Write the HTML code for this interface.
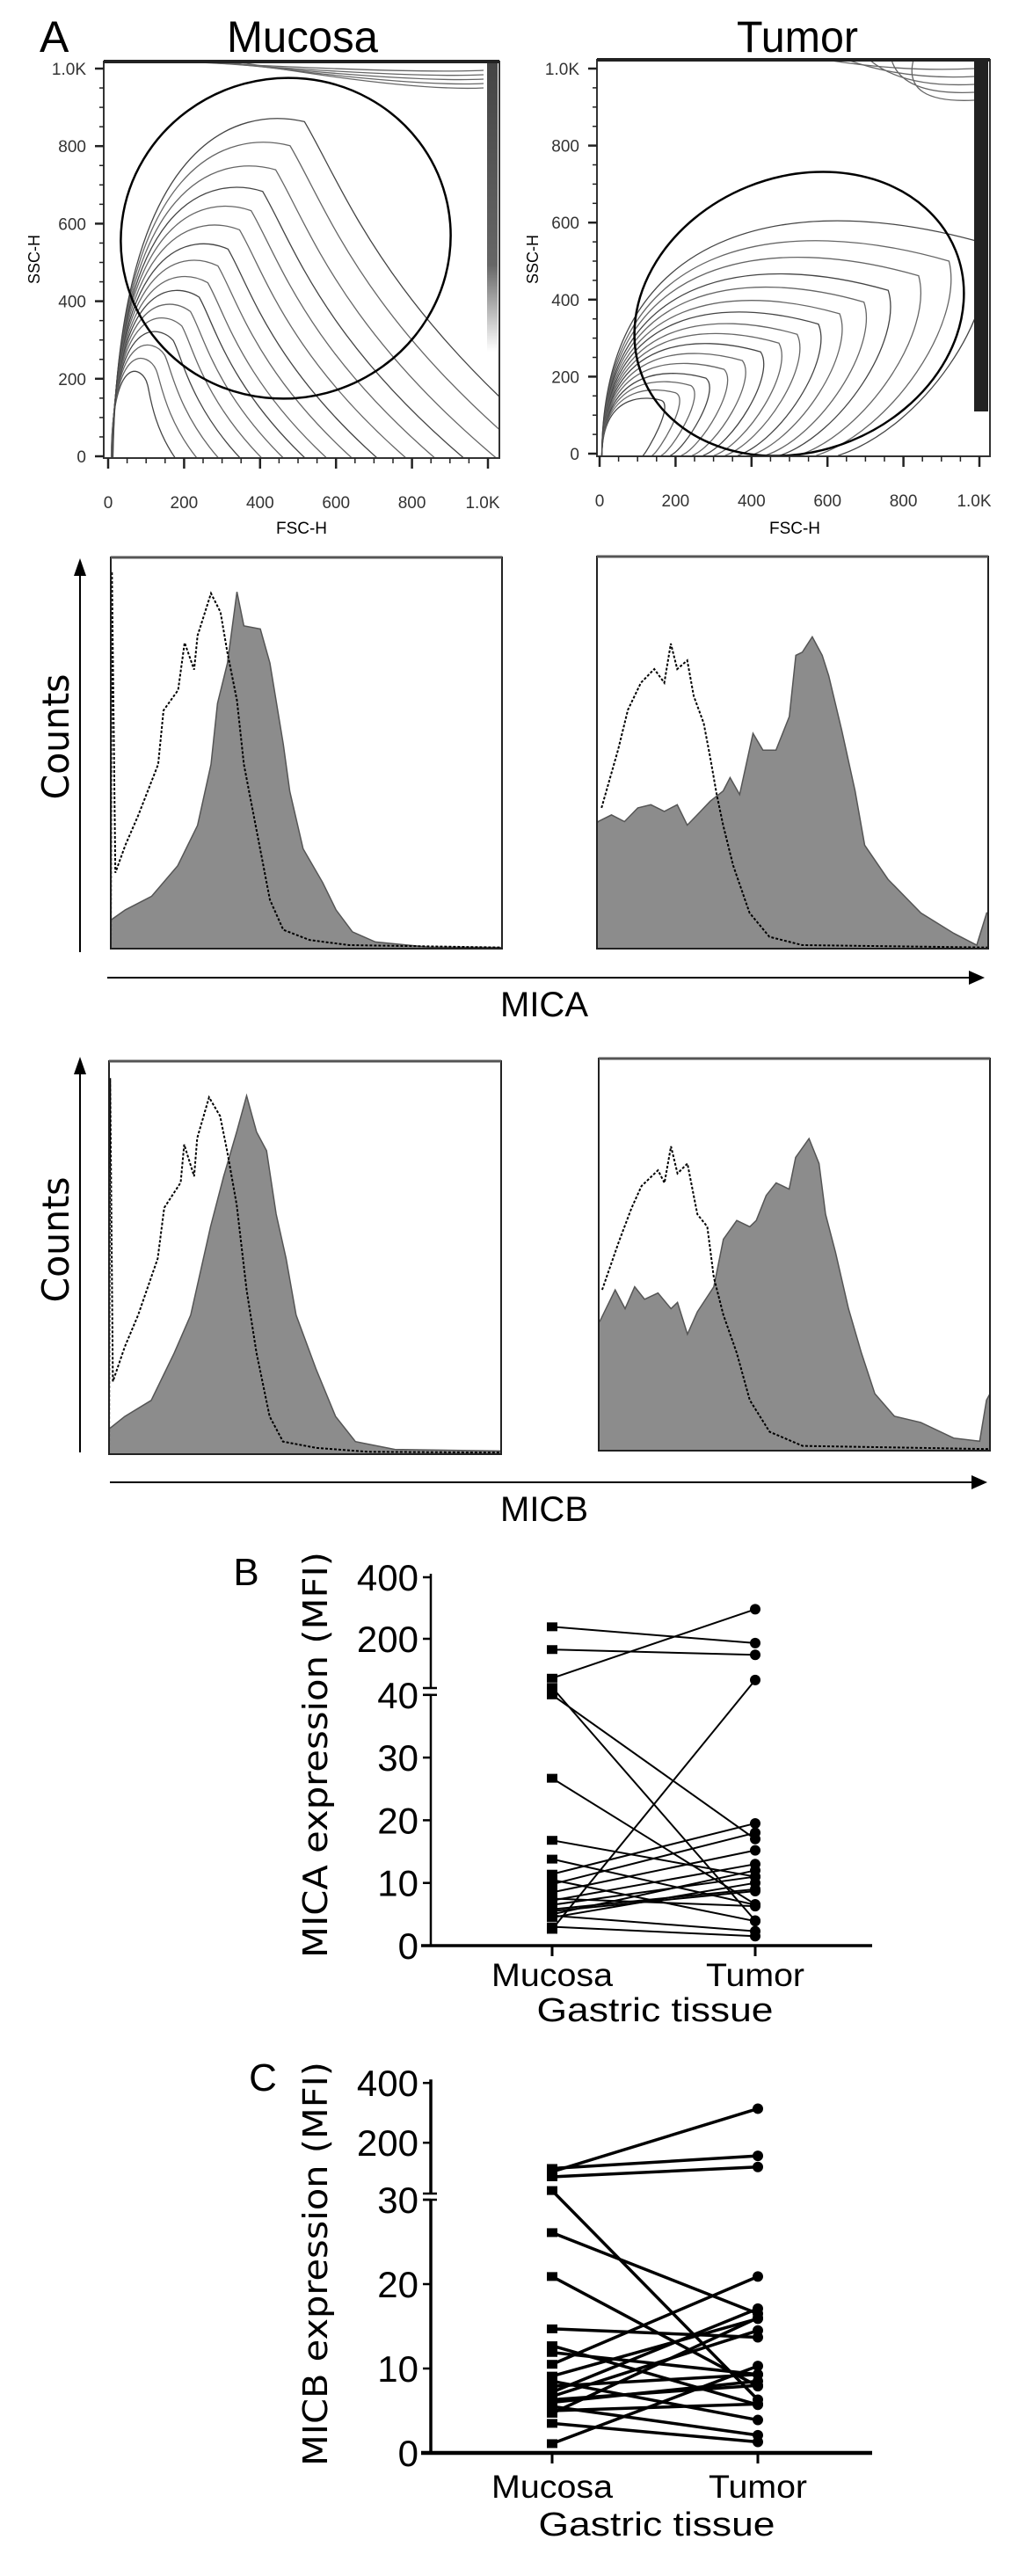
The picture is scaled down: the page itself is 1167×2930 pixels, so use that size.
<!DOCTYPE html>
<html><head><meta charset="utf-8"><style>
html,body{margin:0;padding:0;background:#fff;}
svg{display:block;}
text{font-family:"Liberation Sans",sans-serif;fill:#000;}
.v{font-family:"DejaVu Sans","Liberation Sans",sans-serif;}
.tk{font-size:19px;fill:#333;}
</style></head><body>
<svg id="fig" xmlns="http://www.w3.org/2000/svg" width="1167" height="2930" viewBox="0 0 1167 2930">
<defs><linearGradient id="bandGrad" x1="0" y1="0" x2="0" y2="1"><stop offset="0" stop-color="#444"/><stop offset="0.7" stop-color="#666"/><stop offset="1" stop-color="#fff"/></linearGradient></defs>
<rect x="0" y="0" width="1167" height="2930" fill="#fff"/>
<text x="45" y="59" font-size="50">A</text>
<text x="344" y="59" font-size="50" text-anchor="middle" textLength="172" lengthAdjust="spacingAndGlyphs">Mucosa</text>
<text x="907" y="59" font-size="50" text-anchor="middle" textLength="138" lengthAdjust="spacingAndGlyphs">Tumor</text>
<text x="343" y="607" font-size="19" fill="#333" text-anchor="middle">FSC-H</text>
<text x="904" y="607" font-size="19" fill="#333" text-anchor="middle">FSC-H</text>
<text transform="translate(45,295) rotate(-90)" font-size="18" fill="#333" text-anchor="middle">SSC-H</text>
<text transform="translate(612,295) rotate(-90)" font-size="18" fill="#333" text-anchor="middle">SSC-H</text>
<g>
<line x1="91" y1="1083" x2="91" y2="650" stroke="#000" stroke-width="2"/>
<polygon points="91,635 84,655 98,655" fill="#000"/>
<text class="v" transform="translate(78,838) rotate(-90)" font-size="42" text-anchor="middle" textLength="143" lengthAdjust="spacingAndGlyphs">Counts</text>
</g>
<g>
<line x1="122" y1="1112" x2="1105" y2="1112" stroke="#000" stroke-width="2"/>
<polygon points="1120,1112 1102,1104 1102,1120" fill="#000"/>
<text x="619" y="1156" font-size="40" text-anchor="middle">MICA</text>
</g>
<g>
<line x1="91" y1="1652" x2="91" y2="1218" stroke="#000" stroke-width="2"/>
<polygon points="91,1202 84,1222 98,1222" fill="#000"/>
<text class="v" transform="translate(78,1410) rotate(-90)" font-size="42" text-anchor="middle" textLength="143" lengthAdjust="spacingAndGlyphs">Counts</text>
</g>
<g>
<line x1="125" y1="1686" x2="1107" y2="1686" stroke="#000" stroke-width="2"/>
<polygon points="1123,1686 1105,1678 1105,1694" fill="#000"/>
<text x="619" y="1730" font-size="40" text-anchor="middle">MICB</text>
</g>
<text x="280" y="1803" font-size="44" text-anchor="middle">B</text>
<text class="v" transform="translate(372,1996) rotate(-90)" font-size="38" text-anchor="middle" textLength="462" lengthAdjust="spacingAndGlyphs">MICA expression (MFI)</text>
<text x="628" y="2259" font-size="37" text-anchor="middle" textLength="138" lengthAdjust="spacingAndGlyphs">Mucosa</text>
<text x="859" y="2259" font-size="37" text-anchor="middle" textLength="112" lengthAdjust="spacingAndGlyphs">Tumor</text>
<text x="745" y="2299" font-size="38" text-anchor="middle" textLength="269" lengthAdjust="spacingAndGlyphs">Gastric tissue</text>
<text x="299" y="2378" font-size="44" text-anchor="middle">C</text>
<text class="v" transform="translate(372,2575) rotate(-90)" font-size="38" text-anchor="middle" textLength="460" lengthAdjust="spacingAndGlyphs">MICB expression (MFI)</text>
<text x="628" y="2841" font-size="37" text-anchor="middle" textLength="138" lengthAdjust="spacingAndGlyphs">Mucosa</text>
<text x="862" y="2841" font-size="37" text-anchor="middle" textLength="112" lengthAdjust="spacingAndGlyphs">Tumor</text>
<text x="747" y="2884" font-size="38" text-anchor="middle" textLength="269" lengthAdjust="spacingAndGlyphs">Gastric tissue</text>
</svg>
<script>
// ---------- data ----------
var contourTickValues = [0, 200, 400, 600, 800, 1000];
var contourTickLabels = ['0', '200', '400', '600', '800', '1.0K'];
var mucosaContourLevels = [0.06, 0.12, 0.18, 0.24, 0.3, 0.36, 0.42, 0.48, 0.55, 0.62, 0.7, 0.78, 0.86, 0.95, 1.05, 1.15];
var tumorContourLevels = [0.05, 0.1, 0.15, 0.2, 0.26, 0.32, 0.38, 0.44, 0.5, 0.57, 0.64, 0.72, 0.8, 0.9, 1.0, 1.12];

var micaMucosaStained = [[0,7.3],[38,9.9],[107,13.4],[175,21.2],[227,31.5],[262,47.1],[279,62.7],[305,73],[330,91.2],[348,82.5],[391,81.7],[416,73],[451,52.3],[468,40.2],[503,25.5],[554,16.9],[589,9.9],[632,4.3],[692,1.7],[830,0.4],[1023,0.3]];
var micaMucosaIsotype = [[0,0],[3,96.4],[12,19.4],[38,26.4],[72,34.1],[124,47.1],[138,60.9],[176,66.1],[193,78.2],[218,71.3],[227,80],[262,90.8],[287,86],[305,75.6],[330,63.5],[348,47.1],[382,29.8],[416,12.5],[451,4.8],[520,2.2],[623,0.9],[1023,0.3]];
var micaTumorStained = [[0,32],[3,32.4],[38,34.1],[72,32.4],[107,35.9],[141,36.7],[176,35],[210,36.7],[236,31.5],[262,34.1],[296,37.6],[330,40.2],[348,43.6],[373,39.3],[408,54.9],[434,50.6],[468,50.6],[503,59.2],[520,74.8],[537,75.6],[563,79.5],[589,74.8],[606,69.6],[640,55.7],[675,40.2],[700,26.4],[761,17.7],[847,9.1],[933,3.9],[993,0.9],[1019,9.1],[1023,9.1]];
var micaTumorIsotype = [[12,35.9],[55,50.6],[81,60.9],[115,67.8],[150,71.3],[176,67.8],[193,77.8],[210,71.3],[236,73.5],[253,64.4],[279,57.5],[296,48.8],[313,39.3],[330,31.5],[356,21.2],[399,9.1],[451,3],[537,0.9],[1023,0.3]];
var micbMucosaStained = [[0,6.4],[41,9.6],[110,13.7],[170,25.7],[213,35.4],[265,57.9],[299,70.7],[333,82],[359,91.2],[385,82],[411,77.2],[436,61.1],[462,49.8],[488,35.4],[540,21.7],[591,9.6],[643,3.2],[746,1.2],[1023,0.8]];
var micbMucosaIsotype = [[0,0],[3,95.7],[10,18.5],[41,27.3],[76,35.4],[127,49.8],[144,62.7],[187,69.1],[196,78.8],[222,70.7],[230,80.4],[261,90.8],[290,86],[308,77.2],[333,63.5],[359,41.8],[385,25.7],[419,9.6],[454,3.2],[540,1.6],[677,0.6],[1023,0.4]];
var micbTumorStained = [[0,33],[3,33],[43,41],[69,36.2],[94,41.8],[120,38.6],[155,40.2],[189,36.2],[206,37.8],[232,29.7],[258,35.4],[301,41.8],[326,53.9],[361,58.7],[395,57.1],[412,58.7],[438,65.1],[464,68.3],[498,66.7],[515,74.8],[550,79.6],[576,73.2],[593,60.3],[619,50.6],[653,36.2],[687,24.9],[722,14.5],[773,8.8],[842,7.2],[928,3.2],[996,2.4],[1014,12.9],[1023,14.5]];
var micbTumorIsotype = [[9,41],[52,53.1],[86,61.9],[112,67.5],[155,71.5],[172,68.3],[189,77.6],[206,70.7],[232,73.2],[258,60.3],[284,57.1],[301,44.2],[326,34.6],[361,24.9],[395,12.9],[447,4.8],[533,1.2],[1023,0.4]];

var groupLabels = ['Mucosa', 'Tumor'];
var micaTickValues = [0, 10, 20, 30, 40, 200, 400];
var micaTickLabels = ['0', '10', '20', '30', '40', '200', '400'];
var micaMucosa = [239, 165, 72, 42, 40, 2.6, 26.7, 16.8, 13.8, 11.4, 10.5, 9.8, 8.5, 7.2, 6.5, 5.8, 5, 4.5, 4.8, 3, 7.5, 5.5];
var micaTumor  = [186, 148, 296, 4, 17, 66, 6.6, 11, 6.5, 19.5, 3.9, 18, 15.2, 13, 11, 9, 12, 10, 2.3, 1.5, 6.3, 8.7];
var micbTickValues = [0, 10, 20, 30, 200, 400];
var micbTickLabels = ['0', '10', '20', '30', '200', '400'];
var micbMucosa = [103, 114, 86, 40, 26.1, 20.9, 14.7, 12.7, 11.9, 10.5, 9.1, 8.5, 7.9, 7.2, 6.7, 6, 5.5, 4.7, 3.5, 1.1, 5, 6.3];
var micbTumor  = [314, 156, 119, 6.3, 16.5, 7.9, 13.7, 5.7, 9.3, 20.9, 15.9, 3.9, 9.3, 17.1, 14.5, 8.5, 2.1, 16, 1.3, 10.3, 5.8, 8];

// ---------- helpers ----------
var NS = 'http://www.w3.org/2000/svg';
var svg = document.getElementById('fig');
function mk(tag, parent) { var e = document.createElementNS(NS, tag); (parent || svg).appendChild(e); return e; }

// ---------- contour plots ----------
function contourPlot(box, levels, kind, name) {
  var g = mk('g');
  
  
  function X(v) { return box.ax0 + v * box.sx; }
  function Y(v) { return box.ay0 - v * box.sy; }
  var clip = mk('clipPath', g); clip.setAttribute('id', name + '-clip');
  var cr = mk('rect', clip); cr.setAttribute('x', box.x0); cr.setAttribute('y', box.y0); cr.setAttribute('width', box.x1 - box.x0); cr.setAttribute('height', box.y1 - box.y0);
  var cg = mk('g', g); cg.setAttribute('clip-path', 'url(#' + name + '-clip)');
  
  
  levels.forEach(function (s, i) {
    var d;
    if (kind === 'mucosa') {
      var ax = 80 + 380 * s, ay = 150 + 620 * s, ex = 120 + 950 * s;
      d = 'M' + X(8 + 4 * s) + ',' + Y(-5) + ' C' + X(10 + 15 * s) + ',' + Y(250 + 500 * s) + ' ' + X(ax - 150 * s) + ',' + Y(ay + 40) + ' ' + X(ax) + ',' + Y(ay) +
          ' C' + X(ax + 90 * s) + ',' + Y(ay - 150 * s) + ' ' + X(ax + 180 * s) + ',' + Y(ay * 0.45) + ' ' + X(ex) + ',' + Y(-5);
    } else {
      var tx = 120 + 800 * s, ty = 120 + 380 * s, bx = 90 + 480 * s;
      d = 'M' + X(6) + ',' + Y(-5) + ' C' + X(8) + ',' + Y(150 + 420 * s) + ' ' + X(tx - 420 * s) + ',' + Y(ty + 120 * s) + ' ' + X(tx) + ',' + Y(ty) +
          ' C' + X(tx + 40) + ',' + Y(ty - 160 * s) + ' ' + X(bx + 200 * s) + ',' + Y(60 * s) + ' ' + X(bx) + ',' + Y(-5);
    }
    var p = mk('path', cg);
    
    
    p.setAttribute('d', d);
    p.setAttribute('fill', 'none');
    p.setAttribute('stroke', i % 3 === 0 ? '#444' : '#666');
    p.setAttribute('stroke-width', '1.3');
  });
  var band = mk('rect', cg);
  
  
  band.setAttribute('x', box.x1 - (kind === 'mucosa' ? 14 : 18)); band.setAttribute('y', box.y0);
  band.setAttribute('width', kind === 'mucosa' ? 12 : 16); band.setAttribute('height', kind === 'mucosa' ? 330 : 400);
  band.setAttribute('fill', kind === 'mucosa' ? 'url(#bandGrad)' : '#222');
  for (var k = 0; k < 5; k++) {
    var tl = mk('path', cg);
    
    
    var yy = box.y0 + 4 + k * (kind === 'mucosa' ? 5 : 9);
    tl.setAttribute('d', 'M' + (box.x0 + (kind === 'mucosa' ? 90 + k * 15 : 260 + k * 25)) + ',' + box.y0 + ' Q' + (box.x1 - 100) + ',' + (yy + 10) + ' ' + (box.x1 - 18) + ',' + (yy + 6));
    tl.setAttribute('fill', 'none'); tl.setAttribute('stroke', '#666'); tl.setAttribute('stroke-width', '1.3');
  }
  var el = mk('ellipse', g);
  
  
  el.setAttribute('cx', box.gx); el.setAttribute('cy', box.gy); el.setAttribute('rx', box.grx); el.setAttribute('ry', box.gry);
  el.setAttribute('transform', 'rotate(' + box.grot + ' ' + box.gx + ' ' + box.gy + ')');
  el.setAttribute('fill', 'none'); el.setAttribute('stroke', '#000'); el.setAttribute('stroke-width', '2.5');
  var fr = mk('rect', g);
  
  
  fr.setAttribute('x', box.x0); fr.setAttribute('y', box.y0); fr.setAttribute('width', box.x1 - box.x0); fr.setAttribute('height', box.y1 - box.y0);
  fr.setAttribute('fill', 'none'); fr.setAttribute('stroke', '#333'); fr.setAttribute('stroke-width', '2');
  var tb = mk('line', g);
  
  
  tb.setAttribute('x1', box.x0); tb.setAttribute('x2', box.x1); tb.setAttribute('y1', box.y0); tb.setAttribute('y2', box.y0);
  tb.setAttribute('stroke', '#222'); tb.setAttribute('stroke-width', '4');
  for (var m = 0; m <= 1000; m += 50) {
    var maj = m % 200 === 0;
    var t1 = mk('line', g);
    
    
    t1.setAttribute('x1', X(m)); t1.setAttribute('x2', X(m)); t1.setAttribute('y1', box.y1); t1.setAttribute('y2', box.y1 + (maj ? 12 : 6));
    t1.setAttribute('stroke', '#222'); t1.setAttribute('stroke-width', maj ? 2.5 : 1.5);
    var t2 = mk('line', g);
    
    
    t2.setAttribute('x1', box.x0); t2.setAttribute('x2', box.x0 - (maj ? 10 : 5)); t2.setAttribute('y1', Y(m)); t2.setAttribute('y2', Y(m));
    t2.setAttribute('stroke', '#222'); t2.setAttribute('stroke-width', maj ? 2.5 : 1.5);
  }
  contourTickValues.forEach(function (v, i) {
    var tx = mk('text', g);
    
    
    tx.setAttribute('class', 'tk'); tx.setAttribute('x', X(v) + (i === 5 ? -6 : 0)); tx.setAttribute('y', box.y1 + 57); tx.setAttribute('text-anchor', 'middle');
    tx.textContent = contourTickLabels[i];
    var ty = mk('text', g);
    
    
    ty.setAttribute('class', 'tk'); ty.setAttribute('x', box.x0 - 20); ty.setAttribute('y', Y(v) + 7); ty.setAttribute('text-anchor', 'end');
    ty.textContent = contourTickLabels[i];
  });
}
contourPlot({x0:118,x1:568,y0:70,y1:521,ax0:123,sx:0.432,ay0:519,sy:0.441,gx:325,gy:271,grx:188,gry:182,grot:-15}, mucosaContourLevels, 'mucosa', 'scatter-contour-mucosa');
contourPlot({x0:679,x1:1126,y0:68,y1:519,ax0:682,sx:0.432,ay0:516,sy:0.438,gx:909,gy:357,grx:192,gry:156,grot:-22}, tumorContourLevels, 'tumor', 'scatter-contour-tumor');

// ---------- histograms ----------
function histogram(box, stained, isotype, name) {
  var g = mk('g');
  
  
  function X(c) { return box.x0 + c / 1023 * (box.x1 - box.x0); }
  function Y(p) { return box.y1 - p / 100 * (box.y1 - box.y0); }
  var d = 'M' + X(0) + ',' + box.y1;
  stained.forEach(function (pt) { d += ' L' + X(pt[0]).toFixed(1) + ',' + Y(pt[1]).toFixed(1); });
  d += ' L' + X(1023) + ',' + box.y1 + ' Z';
  var f = mk('path', g);
  
  
  f.setAttribute('d', d); f.setAttribute('fill', '#8c8c8c'); f.setAttribute('stroke', '#555'); f.setAttribute('stroke-width', '1.5');
  var d2 = '';
  isotype.forEach(function (pt, i) { d2 += (i ? ' L' : 'M') + X(pt[0]).toFixed(1) + ',' + Y(pt[1]).toFixed(1); });
  var iso = mk('path', g);
  
  
  iso.setAttribute('d', d2); iso.setAttribute('fill', 'none'); iso.setAttribute('stroke', '#000'); iso.setAttribute('stroke-width', '2'); iso.setAttribute('stroke-dasharray', '3,2');
  var fr = mk('rect', g);
  
  
  fr.setAttribute('x', box.x0); fr.setAttribute('y', box.y0); fr.setAttribute('width', box.x1 - box.x0); fr.setAttribute('height', box.y1 - box.y0);
  fr.setAttribute('fill', 'none'); fr.setAttribute('stroke', '#222'); fr.setAttribute('stroke-width', '2');
  var tb = mk('line', g);
  
  
  tb.setAttribute('x1', box.x0); tb.setAttribute('x2', box.x1); tb.setAttribute('y1', box.y0); tb.setAttribute('y2', box.y0);
  tb.setAttribute('stroke', '#555'); tb.setAttribute('stroke-width', '3');
}
histogram({x0:126,x1:571,y0:634,y1:1079}, micaMucosaStained, micaMucosaIsotype, 'histogram-mica-mucosa');
histogram({x0:679,x1:1124,y0:633,y1:1079}, micaTumorStained, micaTumorIsotype, 'histogram-mica-tumor');
histogram({x0:124,x1:570,y0:1207,y1:1654}, micbMucosaStained, micbMucosaIsotype, 'histogram-micb-mucosa');
histogram({x0:681,x1:1126,y0:1204,y1:1650}, micbTumorStained, micbTumorIsotype, 'histogram-micb-tumor');

// ---------- paired scatter ----------
function pairedPlot(cfg, muc, tum, tickVals, tickLabels, name) {
  var g = mk('g');
  
  
  function Y(v) { return v <= cfg.brk ? cfg.y0 - v * cfg.k : cfg.ub - (v - cfg.brk) * cfg.ku; }
  var xs = [628, cfg.tx];
  var a1 = mk('line', g);
  
  
  a1.setAttribute('x1', 490); a1.setAttribute('x2', 490); a1.setAttribute('y1', cfg.y0); a1.setAttribute('y2', Y(cfg.brk));
  a1.setAttribute('stroke', '#000'); a1.setAttribute('stroke-width', cfg.aw);
  var a2 = mk('line', g);
  
  
  a2.setAttribute('x1', 490); a2.setAttribute('x2', 490); a2.setAttribute('y1', cfg.ub); a2.setAttribute('y2', Y(400) - 4);
  a2.setAttribute('stroke', '#000'); a2.setAttribute('stroke-width', cfg.aw);
  [Y(cfg.brk), cfg.ub].forEach(function (yy) {
    var b = mk('line', g);
    
    
    b.setAttribute('x1', 481); b.setAttribute('x2', 497); b.setAttribute('y1', yy); b.setAttribute('y2', yy);
    b.setAttribute('stroke', '#000'); b.setAttribute('stroke-width', 2.5);
  });
  var xa = mk('line', g);
  
  
  xa.setAttribute('x1', 479); xa.setAttribute('x2', 992); xa.setAttribute('y1', cfg.y0); xa.setAttribute('y2', cfg.y0);
  xa.setAttribute('stroke', '#000'); xa.setAttribute('stroke-width', cfg.aw + 1);
  xs.forEach(function (x, i) {
    var t = mk('line', g);
    
    
    t.setAttribute('x1', x); t.setAttribute('x2', x); t.setAttribute('y1', cfg.y0); t.setAttribute('y2', cfg.y0 + 12);
    t.setAttribute('stroke', '#000'); t.setAttribute('stroke-width', 3);
  });
  tickVals.forEach(function (v, i) {
    var t = mk('line', g);
    
    
    t.setAttribute('x1', 490); t.setAttribute('x2', 481); t.setAttribute('y1', Y(v)); t.setAttribute('y2', Y(v));
    t.setAttribute('stroke', '#000'); t.setAttribute('stroke-width', 2.5);
    var tx = mk('text', g);
    
    
    tx.setAttribute('x', 476); tx.setAttribute('y', Y(v) + 15); tx.setAttribute('text-anchor', 'end'); tx.setAttribute('font-size', '42');
    tx.textContent = tickLabels[i];
  });
  muc.forEach(function (m, i) {
    var l = mk('line', g);
    
    
    l.setAttribute('x1', xs[0]); l.setAttribute('y1', Y(m)); l.setAttribute('x2', xs[1]); l.setAttribute('y2', Y(tum[i]));
    l.setAttribute('stroke', '#000'); l.setAttribute('stroke-width', cfg.lw);
  });
  muc.forEach(function (m) {
    var s = mk('rect', g);
    
    
    s.setAttribute('x', xs[0] - 6); s.setAttribute('y', Y(m) - 5); s.setAttribute('width', 12); s.setAttribute('height', 10); s.setAttribute('fill', '#000');
  });
  tum.forEach(function (t) {
    var c = mk('circle', g);
    
    
    c.setAttribute('cx', xs[1]); c.setAttribute('cy', Y(t)); c.setAttribute('r', 6); c.setAttribute('fill', '#000');
  });
}
pairedPlot({y0:2213, k:7.13, brk:40, ub:1920, ku:0.35, aw:2.5, lw:2, tx:859}, micaMucosa, micaTumor, micaTickValues, micaTickLabels, 'mica-paired-plot');
pairedPlot({y0:2790, k:9.6, brk:30, ub:2495, ku:0.34, aw:3.5, lw:3.5, tx:862}, micbMucosa, micbTumor, micbTickValues, micbTickLabels, 'micb-paired-plot');
</script>
</body></html>
